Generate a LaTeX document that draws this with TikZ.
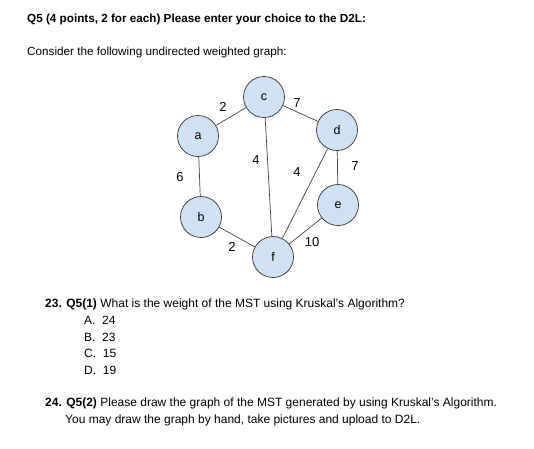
\documentclass[tikz,border=0pt]{standalone}
\usepackage{fontspec}
\setmainfont{Liberation Sans}
\definecolor{nodeblue}{HTML}{CFE2F3}
\begin{document}
\begin{tikzpicture}[x=1pt,y=-1pt,
  vert/.style={circle,draw=black!80,fill=nodeblue,line width=0.7pt,minimum size=41pt,inner sep=0pt,font=\fontsize{12.5}{14}\selectfont},
  edge/.style={draw=black!75,line width=0.7pt},
  wlabel/.style={font=\fontsize{13}{15}\selectfont,inner sep=0pt},
  txt/.style={anchor=base west,inner sep=0pt,font=\fontsize{12}{14}\selectfont}]
\useasboundingbox[fill=white] (0,0) rectangle (534,448);
\node[txt,font=\fontsize{11.7}{14}\selectfont\bfseries] (title) at (27,22) {Q5 (4 points, 2 for each) Please enter your choice to the D2L:};
\node[txt,font=\fontsize{11.7}{14}\selectfont] (consider) at (27,55) {Consider the following undirected weighted graph:};
% vertices
\node[vert] (c) at (264,97) {c};
\node[vert] (a) at (198,136) {a};
\node[vert] (d) at (337,130) {d};
\node[vert] (b) at (201,217) {b};
\node[vert] (e) at (338,205) {e};
\node[vert] (f) at (273,257) {f};
% edges
\draw[edge] (a) -- (c);
\draw[edge] (c) -- (d);
\draw[edge] (c) -- (f);
\draw[edge] (a) -- (b);
\draw[edge] (b) -- (f);
\draw[edge] (d) -- (f);
\draw[edge] (d) -- (e);
\draw[edge] (e) -- (f);
% weights
\node[wlabel] (wac) at (223,107) {2};
\node[wlabel] (wcd) at (297,103) {7};
\node[wlabel] (wab) at (180,177) {6};
\node[wlabel] (wcf) at (256,160) {4};
\node[wlabel] (wdf) at (297,172) {4};
\node[wlabel] (wde) at (355,166) {7};
\node[wlabel] (wbf) at (232,247) {2};
\node[wlabel] (wef) at (312,242) {10};
% questions
\node[txt] (q23) at (45,307) {\textbf{23. Q5(1)} What is the weight of the MST using Kruskal's Algorithm?};
\node[txt] (oa) at (84,324) {A.\ \ 24};
\node[txt] (ob) at (84,341) {B.\ \ 23};
\node[txt] (oc) at (84,357) {C.\ \ 15};
\node[txt] (od) at (84,374) {D.\ \ 19};
\node[txt] (q24) at (45,406) {\textbf{24. Q5(2)} Please draw the graph of the MST generated by using Kruskal's Algorithm.};
\node[txt] (q24b) at (65,423) {You may draw the graph by hand, take pictures and upload to D2L.};
\end{tikzpicture}
\end{document}
